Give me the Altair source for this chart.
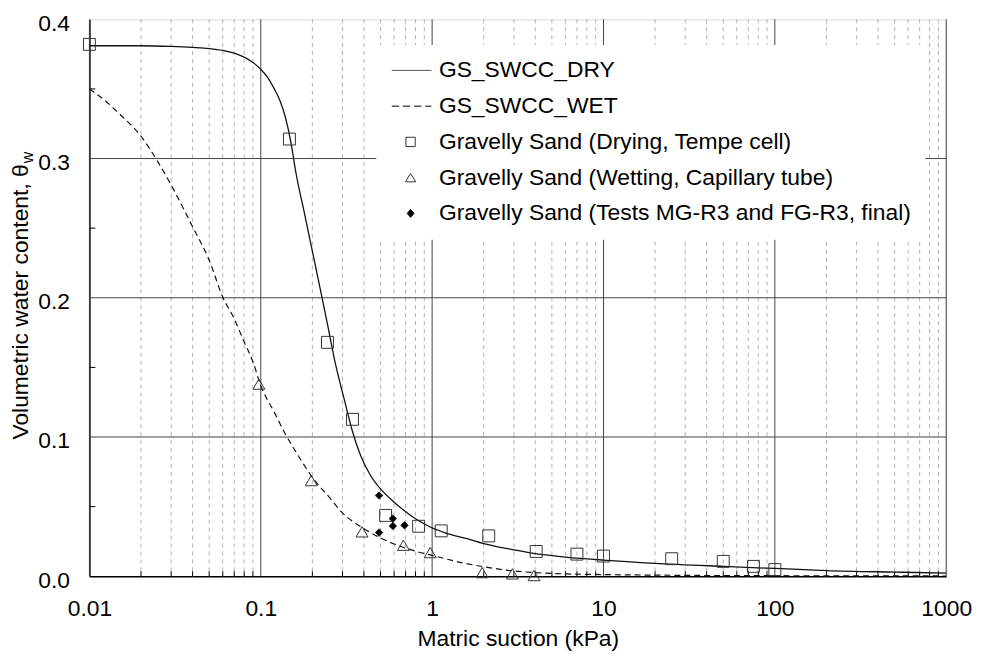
import altair as alt
import pandas as pd

# ---------------- data ----------------
# Fitted curves
dry_x = [0.01, 0.02, 0.03, 0.04, 0.05, 0.06, 0.07, 0.08, 0.09, 0.1, 0.11, 0.12, 0.13,
         0.14, 0.15, 0.16, 0.18, 0.2, 0.22, 0.245, 0.27, 0.307, 0.343, 0.383, 0.438,
         0.5, 0.6, 0.75, 0.93, 1.2, 1.6, 2.0, 3.0, 4.0, 6.0, 10.0, 20.0, 50.0, 100.0,
         200.0, 500.0, 1000.0]
dry_y = [0.381, 0.381, 0.3805, 0.3798, 0.379, 0.3777, 0.3757, 0.3728, 0.369, 0.364,
         0.358, 0.350, 0.341, 0.3285, 0.3115, 0.2905, 0.2605, 0.2335, 0.209, 0.181, 0.155,
         0.127, 0.104, 0.0865, 0.0722, 0.0627, 0.0532, 0.0437, 0.0366, 0.031, 0.027,
         0.0235, 0.019, 0.0162, 0.0138, 0.0116, 0.0093, 0.0071, 0.0056, 0.0041, 0.003,
         0.0023]

wet_x = [0.01, 0.0125, 0.015, 0.02, 0.025, 0.03, 0.04, 0.05, 0.06, 0.07, 0.08, 0.09,
         0.1, 0.12, 0.14, 0.16, 0.18, 0.2, 0.25, 0.3, 0.4, 0.5, 0.6, 0.8, 1.0, 1.5, 2.0,
         3.0, 4.0, 6.0, 10.0, 20.0, 50.0, 100.0, 1000.0]
wet_y = [0.350, 0.341, 0.332, 0.316, 0.298, 0.281, 0.251, 0.227, 0.2005, 0.185, 0.1683,
         0.154, 0.137, 0.1177, 0.1015, 0.0895, 0.0795, 0.071, 0.057, 0.0455, 0.0342,
         0.0275, 0.0232, 0.018, 0.015, 0.0097, 0.0068, 0.0038, 0.0026, 0.0017, 0.0012,
         0.0008, 0.0005, 0.0004, 0.0002]

# Measured points
drying_x = [0.01, 0.147, 0.245, 0.343, 0.535, 0.834, 1.13, 2.14, 4.05, 7.0, 10.0,
            25.0, 50.0, 75.0, 100.0]
drying_y = [0.382, 0.314, 0.168, 0.1127, 0.0437, 0.0359, 0.0326, 0.029, 0.0178,
            0.0159, 0.0145, 0.0126, 0.0107, 0.0071, 0.0048]

wetting_x = [0.0975, 0.197, 0.39, 0.68, 0.975, 1.96, 2.94, 3.93]
wetting_y = [0.138, 0.0687, 0.0319, 0.0223, 0.017, 0.0026, 0.0017, 0.0005]

tests_x = [0.49, 0.49, 0.59, 0.59, 0.69]
tests_y = [0.058, 0.0314, 0.0414, 0.0361, 0.0366]

series_names = [
    "GS_SWCC_DRY",
    "GS_SWCC_WET",
    "Gravelly Sand (Drying, Tempe cell)",
    "Gravelly Sand (Wetting, Capillary tube)",
    "Gravelly Sand (Tests MG-R3 and FG-R3, final)",
]

# axis ticks / grid positions
major_x = [0.01, 0.1, 1, 10, 100, 1000]
minor_x = [k * 10.0 ** e for e in range(-2, 3) for k in range(2, 10)]
y_labels = [0.0, 0.1, 0.2, 0.3, 0.4]
grid_y = [0.1, 0.2, 0.3]
y_minor = [0.05, 0.15, 0.25, 0.35]

FONT = "Liberation Sans"
FS = 23

xscale = alt.Scale(type="log", domain=[0.01, 1000], nice=False)
yscale = alt.Scale(domain=[0, 0.4], nice=False, zero=False)

xaxis = alt.Axis(values=major_x, format="~g", title="Matric suction (kPa)", grid=False,
                 ticks=False, labelFontSize=FS, labelPadding=22, titleFontSize=FS,
                 titleFontWeight="normal", titlePadding=7, domainColor="#000",
                 domainWidth=1.5, labelColor="#000", titleColor="#000",
                 labelFlush=False, labelOverlap=False, labelFont=FONT, titleFont=FONT)
yaxis = alt.Axis(values=y_labels, format=".1f", title=None, grid=False, ticks=False,
                 labelFontSize=FS, labelPadding=20, labelOffset=4, domainColor="#000",
                 domainWidth=1.5, labelColor="#000", labelFlush=False,
                 labelOverlap=False, labelFont=FONT)


def X():
    return alt.X("x:Q", scale=xscale, axis=xaxis)


def Y():
    return alt.Y("y:Q", scale=yscale, axis=yaxis)


minor_grid = alt.Chart(pd.DataFrame({"x": minor_x})).mark_rule(
    color="#b0b0b0", strokeDash=[4, 4], strokeWidth=1).encode(x=X())
major_grid = alt.Chart(pd.DataFrame({"x": major_x})).mark_rule(
    color="#444", strokeWidth=1).encode(x=X())
h_grid = alt.Chart(pd.DataFrame({"y": grid_y})).mark_rule(
    color="#444", strokeWidth=1).encode(y=Y())
x_ticks = alt.Chart(pd.DataFrame({"x": minor_x})).mark_rule(
    color="#000", strokeWidth=1).encode(x=X(), y=alt.value(556), y2=alt.value(561))
y_ticks = alt.Chart(pd.DataFrame({"y": y_minor})).mark_rule(
    color="#000", strokeWidth=1).encode(y=Y(), x=alt.value(0), x2=alt.value(6))

dry_line = alt.Chart(pd.DataFrame({"x": dry_x, "y": dry_y})).mark_line(
    color="#111", strokeWidth=1.3, interpolate="monotone").encode(x=X(), y=Y())
wet_line = alt.Chart(pd.DataFrame({"x": wet_x, "y": wet_y})).mark_line(
    color="#111", strokeWidth=1.2, strokeDash=[6, 4], interpolate="monotone").encode(x=X(), y=Y())

drying_pts = alt.Chart(pd.DataFrame({"x": drying_x, "y": drying_y})).mark_point(
    shape="square", size=144, filled=False, stroke="#333", strokeWidth=1,
    opacity=1).encode(x=X(), y=Y())
wetting_pts = alt.Chart(pd.DataFrame({"x": wetting_x, "y": wetting_y})).mark_point(
    shape="triangle-up", size=144, filled=False, stroke="#333", strokeWidth=1,
    opacity=1).encode(x=X(), y=Y())
tests_pts = alt.Chart(pd.DataFrame({"x": tests_x, "y": tests_y})).mark_point(
    shape="diamond", size=60, filled=True, fill="#000", stroke="#000", strokeWidth=0.5,
    opacity=1).encode(x=X(), y=Y())

# legend (built by Vega-Lite from a layer whose marks sit outside the view)
legend_paths = [
    "M-2,0H2",
    "M-2,0H-1.25M-0.88,0H-0.13M0.25,0H1M1.37,0H2",
    "M-0.57,-0.47H0.37V0.47H-0.57Z",
    "M-0.1,-0.42L0.42,0.42L-0.62,0.42Z",
    "M-0.1,-0.4L0.24,0L-0.1,0.4L-0.44,0Z",
]
legend_fill = ["transparent", "transparent", "white", "white", "#000"]
legend_stroke = ["#555", "#000", "#333", "#333", "#000"]

leg = alt.Legend(title=None, orient="none", legendX=289, legendY=26, direction="vertical",
                 fillColor="white", padding=14, symbolSize=400, symbolOffset=10,
                 labelOffset=16, symbolStrokeWidth=1, labelFontSize=FS, labelFont=FONT,
                 labelColor="#000", labelLimit=1000, rowPadding=12)

legend_layer = alt.Chart(pd.DataFrame({"series": series_names})).mark_point(
    filled=True, opacity=1, size=400).encode(
    x=alt.value(-3000), y=alt.value(-3000),
    shape=alt.Shape("series:N", scale=alt.Scale(domain=series_names, range=legend_paths),
                    legend=leg, sort=series_names),
    fill=alt.Fill("series:N", scale=alt.Scale(domain=series_names, range=legend_fill),
                  legend=leg, sort=series_names),
    stroke=alt.Stroke("series:N", scale=alt.Scale(domain=series_names, range=legend_stroke),
                      legend=leg, sort=series_names),
)

# y-axis title with subscript
ytitle = alt.Chart(pd.DataFrame({"t": ["Volumetric water content, θ"]})).mark_text(
    angle=270, align="right", baseline="alphabetic", fontSize=FS, font=FONT,
    color="#000").encode(text="t:N", x=alt.value(-62), y=alt.value(146))
ysub = alt.Chart(pd.DataFrame({"t": ["w"]})).mark_text(
    angle=270, align="left", baseline="alphabetic", fontSize=16, font=FONT,
    color="#000").encode(text="t:N", x=alt.value(-57), y=alt.value(145))

chart = alt.layer(
    minor_grid, major_grid, h_grid, x_ticks, y_ticks,
    dry_line, wet_line, drying_pts, wetting_pts, tests_pts,
    legend_layer, ytitle, ysub,
).properties(
    width=863, height=561,
    autosize=alt.AutoSizeParams(type="none"),
    padding={"left": 82, "top": 9, "right": 28, "bottom": 85},
).configure_view(stroke="#222", strokeWidth=1).configure(font=FONT)

chart.save("out.html", embed_options={"renderer": "svg", "actions": False})
